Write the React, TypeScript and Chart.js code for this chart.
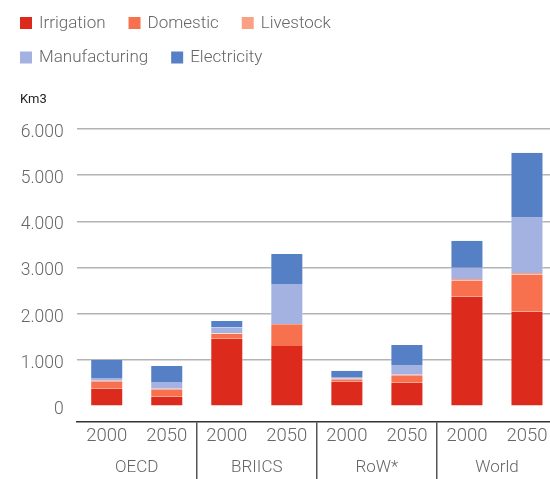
import React, { useEffect, useRef } from 'react';
import { Chart, registerables } from 'chart.js';

Chart.register(...registerables);

// ---- Data ----
const categories = ['2000', '2050', '2000', '2050', '2000', '2050', '2000', '2050'];
const groups = ['OECD', 'BRIICS', 'RoW*', 'World'];
const irrigation = [380, 206, 1461, 1303, 530, 509, 2370, 2045];
const domestic = [160, 163, 105, 456, 55, 163, 346, 801];
const livestock = [12, 10, 12, 20, 10, 10, 36, 37];
const manufacturing = [58, 145, 132, 866, 37, 195, 246, 1197];
const electricity = [390, 346, 134, 649, 136, 448, 584, 1407];
const yTicks = [0, 1000, 2000, 3000, 4000, 5000, 6000];
const unitLabel = 'Km3';
const seriesNames = ['Irrigation', 'Domestic', 'Livestock', 'Manufacturing', 'Electricity'];

const COLORS = ['#dc2b1c', '#f7714f', '#f9a184', '#a3b2e1', '#5680c5'];
const FONT = 'Roboto';
const TEXT = '#666666';

const fmt = (v: number) => String(v).replace(/\B(?=(\d{3})+(?!\d))/g, '.');

const legendPlugin = {
  id: 'customLegend',
  afterDraw(chart: any) {
    const ctx = chart.ctx;
    ctx.save();
    ctx.font = `300 17px ${FONT}`;
    ctx.textBaseline = 'middle';
    ctx.textAlign = 'left';
    let x = 20;
    let y = 23;
    chart.data.datasets.forEach((ds: any) => {
      const w = ctx.measureText(ds.label).width;
      if (x + 19 + w > 345) {
        x = 20;
        y += 34.5;
      }
      ctx.fillStyle = ds.backgroundColor;
      ctx.fillRect(x, y - 6, 12, 12);
      ctx.fillStyle = TEXT;
      ctx.fillText(ds.label, x + 19, y + 0.5);
      x += 19 + w + 23;
    });
    ctx.font = `13px ${FONT}`;
    ctx.fillStyle = '#222222';
    ctx.fillText(unitLabel, 20, 100);
    ctx.restore();
  },
};

export default function App() {
  const canvasRef = useRef<HTMLCanvasElement | null>(null);

  useEffect(() => {
    const canvas = canvasRef.current;
    if (!canvas) return;
    const values = [irrigation, domestic, livestock, manufacturing, electricity];
    const chart = new Chart(canvas, {
      type: 'bar',
      data: {
        labels: categories,
        datasets: seriesNames.map((name, i) => ({
          label: name,
          data: values[i],
          backgroundColor: COLORS[i],
          borderColor: 'rgba(255,255,255,0.45)',
          borderWidth: { left: 1, right: 1, top: 0, bottom: 0 },
          borderSkipped: false,
          categoryPercentage: 1,
          barPercentage: 0.55,
          xAxisID: 'x',
        })),
      },
      plugins: [legendPlugin],
      options: {
        animation: false,
        responsive: false,
        maintainAspectRatio: false,
        devicePixelRatio: 1,
        layout: { padding: { top: 129, left: 0, right: 0, bottom: 0 } },
        plugins: {
          legend: { display: false },
          tooltip: { enabled: false },
        },
        scales: {
          x: {
            type: 'category',
            stacked: true,
            position: 'bottom',
            afterFit: (s: any) => {
              s.height = 24;
            },
            border: { display: true, color: '#333333', width: 1.5 },
            grid: {
              display: true,
              offset: true,
              drawOnChartArea: false,
              drawTicks: true,
              tickLength: 57,
              lineWidth: 1.5,
              color: (c: any) => ([2, 4, 6].includes(c.index) ? '#555555' : 'rgba(0,0,0,0)'),
              tickColor: (c: any) => ([2, 4, 6].includes(c.index) ? '#555555' : 'rgba(0,0,0,0)'),
            },
            ticks: {
              padding: -54,
              color: TEXT,
              font: { family: FONT, size: 18.5, weight: '300' as any },
              maxRotation: 0,
              autoSkip: false,
            },
          },
          x2: {
            type: 'category',
            labels: groups,
            position: 'bottom',
            offset: true,
            afterFit: (s: any) => {
              s.height = 33;
            },
            border: { display: false },
            grid: { display: false, drawTicks: false },
            ticks: {
              padding: 12,
              color: TEXT,
              font: { family: FONT, size: 17, weight: '300' as any },
              maxRotation: 0,
              autoSkip: false,
            },
          },
          y: {
            stacked: true,
            min: -342,
            max: 6000,
            afterFit: (s: any) => {
              s.width = 76.7;
            },
            afterBuildTicks: (s: any) => {
              s.ticks = yTicks.map((v) => ({ value: v }));
            },
            border: { display: false },
            grid: {
              drawTicks: false,
              lineWidth: 1.5,
              color: (c: any) => (c.tick && c.tick.value === 0 ? 'rgba(0,0,0,0)' : '#b3b3b3'),
            },
            ticks: {
              padding: 13,
              labelOffset: 3.5,
              color: TEXT,
              font: { family: FONT, size: 17.5, weight: '300' as any },
              callback: (v: any) => fmt(Number(v)),
            },
          },
        },
      } as any,
    });
    return () => chart.destroy();
  }, []);

  return (
    <div
      style={{
        position: 'fixed',
        left: 0,
        top: 0,
        width: 550,
        height: 479,
        overflow: 'hidden',
        background: '#ffffff',
      }}
    >
      <canvas ref={canvasRef} width={557} height={479} style={{ display: 'block' }} />
    </div>
  );
}
